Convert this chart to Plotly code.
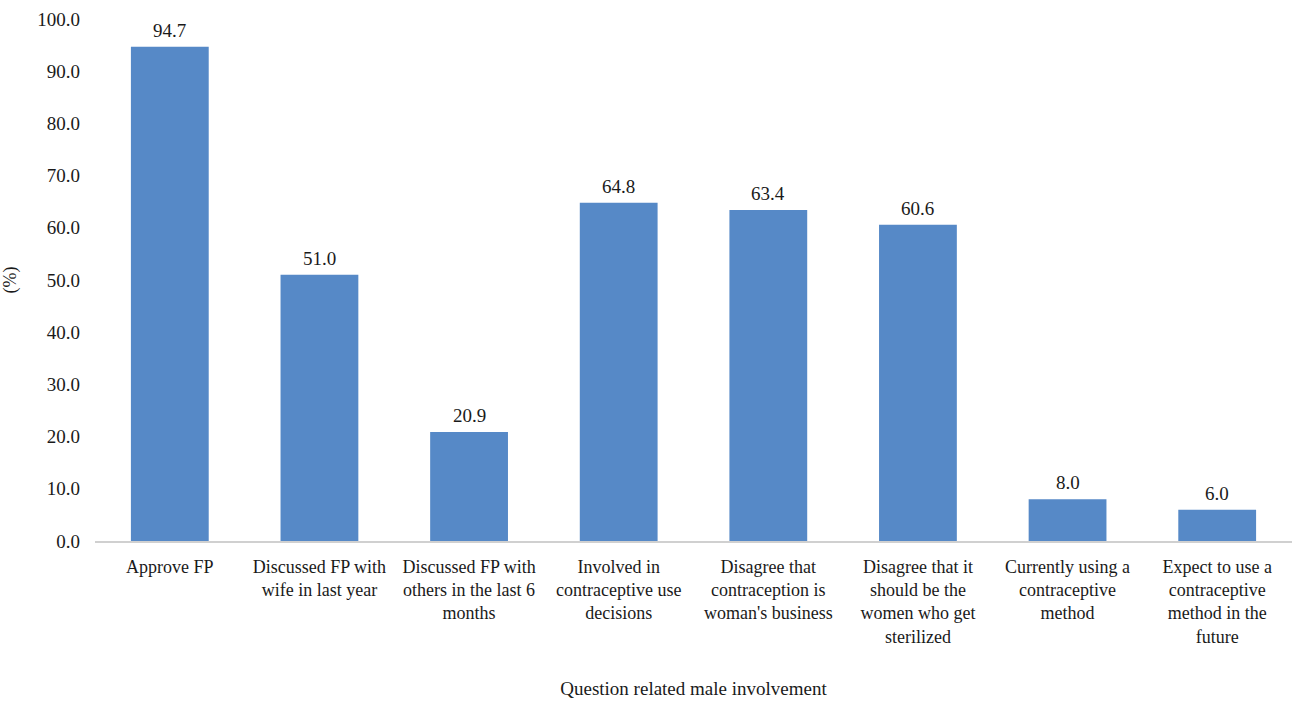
import plotly.graph_objects as go

categories = [
    "Approve FP",
    "Discussed FP with<br>wife in last year",
    "Discussed FP with<br>others in the last 6<br>months",
    "Involved in<br>contraceptive use<br>decisions",
    "Disagree that<br>contraception is<br>woman's business",
    "Disagree that it<br>should be the<br>women who get<br>sterilized",
    "Currently using a<br>contraceptive<br>method",
    "Expect to use a<br>contraceptive<br>method in the<br>future",
]
values = [94.7, 51.0, 20.9, 64.8, 63.4, 60.6, 8.0, 6.0]
y_ticks = [0, 10, 20, 30, 40, 50, 60, 70, 80, 90, 100]

font = "Liberation Serif, Times New Roman, serif"

fig = go.Figure()
fig.add_trace(go.Bar(
    x=categories,
    y=values,
    marker=dict(color="#5689C7", line=dict(width=0)),
    width=0.52,
    cliponaxis=False,
))
for c, v in zip(categories, values):
    fig.add_annotation(
        x=c, y=v, text=f"{v:.1f}", showarrow=False,
        yanchor="bottom", yshift=4,
        font=dict(family=font, size=19, color="#1a1a1a"),
    )

fig.update_layout(
    width=1292, height=703,
    margin=dict(l=95, r=0, t=19, b=162),
    paper_bgcolor="white", plot_bgcolor="white",
    font=dict(family=font, size=18, color="#1a1a1a"),
    showlegend=False,
)
fig.update_xaxes(
    showline=True, linecolor="#d0d0d0", linewidth=2,
    showgrid=False, ticks="", tickfont=dict(size=18), ticklabelstandoff=8,
    title=dict(text="Question related male involvement", font=dict(size=19), standoff=36),
)
fig.update_yaxes(
    range=[0, 100], tickvals=y_ticks, ticktext=[f"{t:.1f}" for t in y_ticks],
    showgrid=False, showline=False, zeroline=False, ticks="",
    tickfont=dict(size=19), ticklabelstandoff=14,
    title=dict(text="(%)", font=dict(size=18), standoff=20),
)

fig.write_html("out.html")
